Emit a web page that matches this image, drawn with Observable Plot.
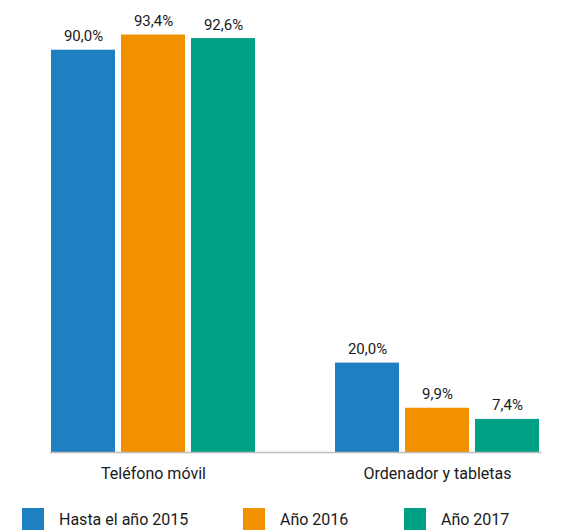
<!DOCTYPE html>
<html>
<head>
<meta charset="utf-8">
<script src="https://cdn.jsdelivr.net/npm/d3@7"></script>
<script src="https://cdn.jsdelivr.net/npm/@observablehq/plot@0.6"></script>
<style>
  body { margin: 0; background: #fff; font-family: Roboto, "DejaVu Sans", sans-serif; color: #222; }
  #legend { display: flex; align-items: center; margin-top: 13px; margin-left: 22px; font-size: 16px; font-weight: 400; color: #1a1a1a; white-space: nowrap; }
  .item { display: flex; align-items: center; flex: none; }
  .sw { width: 22px; height: 22px; margin-right: 15px; flex: none; }
</style>
</head>
<body>
<div id="chart"></div>
<div id="legend"></div>
<script>
const groups = ["Teléfono móvil", "Ordenador y tabletas"];
const series = ["Hasta el año 2015", "Año 2016", "Año 2017"];
const colors = ["#1f80c1", "#f29100", "#00a085"];
const valuesTelefono = [90.0, 93.4, 92.6];
const valuesOrdenador = [20.0, 9.9, 7.4];
const legendWidths = ["221px", "161px", "auto"];

const data = [];
series.forEach((s, i) => {
  data.push({group: groups[0], series: s, value: valuesTelefono[i]});
  data.push({group: groups[1], series: s, value: valuesOrdenador[i]});
});
const fmt = v => v.toFixed(1).replace(".", ",") + "%";

const chart = Plot.plot({
  width: 575,
  height: 495,
  marginLeft: 10,
  marginRight: 0,
  marginTop: 5,
  marginBottom: 43,
  style: {fontFamily: "Roboto, 'DejaVu Sans', sans-serif", fontSize: "16px", color: "#1a1a1a", background: "#fff"},
  fx: {domain: groups, paddingInner: 0.2737, paddingOuter: 0.1281, align: 0.534, axis: "bottom", tickSize: 0, tickPadding: 15, label: null},
  x: {domain: series, paddingInner: 0.0845, paddingOuter: 0, axis: null},
  y: {domain: [0, 100], axis: null},
  color: {domain: series, range: colors},
  marks: [
    Plot.barY(data, {fx: "group", x: "series", y: "value", fill: "series"}),
    Plot.text(data, {fx: "group", x: "series", y: "value", text: d => fmt(d.value), dy: -9, lineAnchor: "bottom", fontSize: 15, fontWeight: 400, fill: "#1a1a1a"}),
    Plot.frame({anchor: "bottom", facet: "super", stroke: "#bdbdbd", strokeWidth: 1.5})
  ]
});
document.getElementById("chart").appendChild(chart);

const legend = document.getElementById("legend");
series.forEach((s, i) => {
  const it = document.createElement("div");
  it.className = "item";
  it.style.width = legendWidths[i];
  const sw = document.createElement("div");
  sw.className = "sw";
  sw.style.background = colors[i];
  const lb = document.createElement("span");
  lb.textContent = s;
  it.appendChild(sw);
  it.appendChild(lb);
  legend.appendChild(it);
});
</script>
</body>
</html>
